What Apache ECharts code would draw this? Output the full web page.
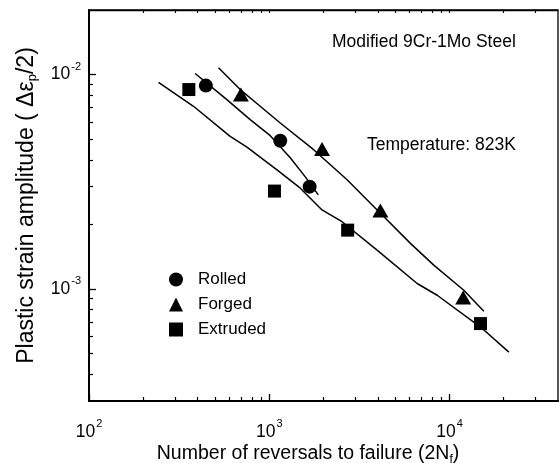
<!DOCTYPE html>
<html><head><meta charset="utf-8">
<script src="https://cdn.jsdelivr.net/npm/echarts@6/dist/echarts.min.js"></script>
<style>html,body{margin:0;padding:0;background:#fff}#c{width:559px;height:463px}</style>
</head><body><div id="c"></div>
<script>
// Measured points (reversals to failure, plastic strain amplitude)
const rolledN = [445, 1151, 1675];
const rolledStrain = [0.00888, 0.00491, 0.00300];
const forgedN = [696, 1963, 4137, 11915];
const forgedStrain = [0.00806, 0.00449, 0.00232, 0.000912];
const extrudedN = [358, 1069, 2723, 14860];
const extrudedStrain = [0.00851, 0.00286, 0.00188, 0.000689];

// Fitted curves
const rolledFitN = [388, 582, 784, 1013, 1308, 1585, 1872];
const rolledFitStrain = [0.01011, 0.00764, 0.00616, 0.005184, 0.004089, 0.003332, 0.002745];
const forgedFitN = [523, 690, 891, 1151, 1763, 2703, 4138, 6072, 8181, 12007, 15508];
const forgedFitStrain = [0.01075, 0.00851, 0.00711, 0.00594, 0.00446, 0.00323, 0.002254, 0.001631, 0.001291, 0.000986, 0.000786];
const extrudedFitN = [243, 380, 607, 752, 1104, 1487, 1963, 2535, 3966, 6616, 8546, 14866, 21354];
const extrudedFitStrain = [0.0092, 0.00711, 0.005145, 0.004589, 0.003593, 0.00295, 0.002335, 0.002058, 0.001517, 0.00106, 0.000934, 0.000664, 0.000507];

// Axis ticks
const xMajorTicks = [100, 1000, 10000];
const xMinorTicks = [200, 300, 400, 500, 600, 700, 800, 900, 2000, 3000, 4000, 5000, 6000, 7000, 8000, 9000, 20000, 30000];
const yMajorTicks = [0.001, 0.01];
const yMinorTicks = [0.0004, 0.0005, 0.0006, 0.0007, 0.0008, 0.0009, 0.002, 0.003, 0.004, 0.005, 0.006, 0.007, 0.008, 0.009];

const FONT = '"Liberation Sans", Arial, Helvetica, sans-serif';
const zip = (a, b) => a.map((v, i) => [v, b[i]]);
const powLabel = v => '{b|10}{s|' + Math.round(Math.log10(v)) + '}';
const labelRich = {
  b: { fontSize: 17.5, fontFamily: FONT, color: '#000', lineHeight: 20 },
  s: { fontSize: 11, fontFamily: FONT, color: '#000', lineHeight: 11, padding: [0, 0, 16, 1] }
};

const chart = echarts.init(document.getElementById('c'));
const xRange = { min: 100, max: 40000 };
const yRange = { min: 0.0003, max: 0.02 };

chart.setOption({
  animation: false,
  backgroundColor: '#fff',
  grid: { left: 89, top: 10, right: 1, bottom: 62, outerBoundsMode: 'none', containLabel: false, show: true, borderColor: '#000', borderWidth: 1.3, backgroundColor: 'transparent' },
  legend: {
    left: 164, top: 266, orient: 'vertical', itemWidth: 14, itemHeight: 14, itemGap: 8,
    textStyle: { fontSize: 17, fontFamily: FONT, color: '#000', padding: [0, 0, 0, 10] },
    data: [{ name: 'Rolled', icon: 'circle' }, { name: 'Forged', icon: 'triangle' }, { name: 'Extruded', icon: 'rect' }]
  },
  xAxis: [
    {
      type: 'log', position: 'bottom', ...xRange,
      axisLine: { lineStyle: { color: '#000', width: 2 } },
      axisTick: { inside: true, length: 7, lineStyle: { color: '#000', width: 1.3 }, customValues: xMajorTicks },
      axisLabel: { customValues: xMajorTicks, formatter: powLabel, rich: labelRich, margin: 21 },
      splitLine: { show: false },
      name: '{t|Number of reversals to failure (2N}{u|f}{t|)}', nameLocation: 'middle', nameGap: 42, nameMoveOverlap: false,
      nameTextStyle: { padding: [0, 31, 0, 0], rich: {
        t: { fontSize: 19.5, fontFamily: FONT, color: '#000', lineHeight: 22 },
        u: { fontSize: 12, fontFamily: FONT, color: '#000', lineHeight: 12, padding: [12, 0, 0, 0] }
      } }
    },
    {
      type: 'log', position: 'bottom', ...xRange,
      axisLine: { show: false },
      axisTick: { inside: true, length: 4, lineStyle: { color: '#000', width: 1.2 }, customValues: xMinorTicks },
      axisLabel: { show: false }, splitLine: { show: false }
    },
    {
      type: 'log', position: 'top', ...xRange,
      axisLine: { lineStyle: { color: '#000', width: 1.3 } },
      axisTick: { inside: true, length: 3, lineStyle: { color: '#000', width: 1.1 }, customValues: xMajorTicks.concat(xMinorTicks) },
      axisLabel: { show: false }, splitLine: { show: false }
    }
  ],
  yAxis: [
    {
      type: 'log', position: 'left', ...yRange,
      axisLine: { lineStyle: { color: '#000', width: 2 } },
      axisTick: { inside: true, length: 7, lineStyle: { color: '#000', width: 1.3 }, customValues: yMajorTicks },
      axisLabel: { customValues: yMajorTicks, formatter: powLabel, rich: labelRich, margin: 8 },
      splitLine: { show: false },
      name: '{t|Plastic strain amplitude ( Δε}{u|p}{t|/2)}', nameLocation: 'middle', nameRotate: 90, nameGap: 50, nameMoveOverlap: false,
      nameTextStyle: { rich: {
        t: { fontSize: 23, fontFamily: FONT, color: '#000', lineHeight: 25 },
        u: { fontSize: 13, fontFamily: FONT, color: '#000', lineHeight: 13, padding: [12, 0, 0, 0] }
      } }
    },
    {
      type: 'log', position: 'left', ...yRange,
      axisLine: { show: false },
      axisTick: { inside: true, length: 4, lineStyle: { color: '#000', width: 1.2 }, customValues: yMinorTicks },
      axisLabel: { show: false }, splitLine: { show: false }
    }
  ],
  graphic: [
    { type: 'text', left: 332, top: 33, style: { text: 'Modified 9Cr-1Mo Steel', font: '17.5px ' + FONT, fill: '#000' } },
    { type: 'text', left: 367, top: 136, style: { text: 'Temperature: 823K', font: '17.5px ' + FONT, fill: '#000' } }
  ],
  series: [
    { name: 'Rolled fit', type: 'line', data: zip(rolledFitN, rolledFitStrain), showSymbol: false, symbol: 'none', lineStyle: { color: '#000', width: 1.5 }, z: 2, silent: true },
    { name: 'Forged fit', type: 'line', data: zip(forgedFitN, forgedFitStrain), showSymbol: false, symbol: 'none', lineStyle: { color: '#000', width: 1.5 }, z: 2, silent: true },
    { name: 'Extruded fit', type: 'line', data: zip(extrudedFitN, extrudedFitStrain), showSymbol: false, symbol: 'none', lineStyle: { color: '#000', width: 1.5 }, z: 2, silent: true },
    { name: 'Rolled', type: 'scatter', data: zip(rolledN, rolledStrain), symbol: 'circle', symbolSize: 14, itemStyle: { color: '#000', opacity: 1 }, z: 3 },
    { name: 'Forged', type: 'scatter', data: zip(forgedN, forgedStrain), symbol: 'triangle', symbolSize: [16, 14], itemStyle: { color: '#000', opacity: 1 }, z: 3 },
    { name: 'Extruded', type: 'scatter', data: zip(extrudedN, extrudedStrain), symbol: 'rect', symbolSize: 13, itemStyle: { color: '#000', opacity: 1 }, z: 3 }
  ]
});
</script>
</body></html>
